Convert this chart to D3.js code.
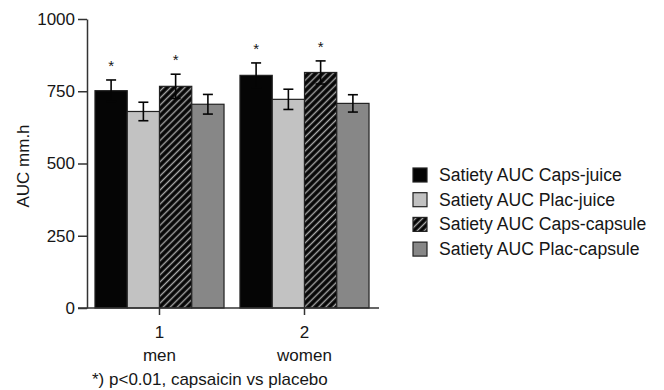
<!DOCTYPE html>
<html lang="en">
<head>
<meta charset="UTF-8">
<title>Satiety AUC</title>
<script src="https://d3js.org/d3.v7.min.js"></script>
<style>
  body { margin: 0; background: #fff; }
  svg text { font-family: "Liberation Sans", Arial, sans-serif; fill: #161616; }
</style>
</head>
<body>
<div id="chart"></div>
<script>
// data
const groups = ["1", "2"];
const groupNames = ["men", "women"];
const seriesNames = ["Satiety AUC Caps-juice", "Satiety AUC Plac-juice",
                     "Satiety AUC Caps-capsule", "Satiety AUC Plac-capsule"];
const capsJuice = [752, 805];
const placJuice = [680, 722];
const capsCapsule = [767, 815];
const placCapsule = [705, 708];
const capsJuiceErr = [37, 43];
const placJuiceErr = [32, 35];
const capsCapsuleErr = [42, 40];
const placCapsuleErr = [34, 30];
const significant = [true, false, true, false];
const yTicks = [0, 250, 500, 750, 1000];
const footnote = "*) p<0.01, capsaicin vs placebo";

const means = [capsJuice, placJuice, capsCapsule, placCapsule];
const errs = [capsJuiceErr, placJuiceErr, capsCapsuleErr, placCapsuleErr];
const fills = ["#050505", "#c2c2c2", "url(#hatch)", "#878787"];

const width = 664, height = 390;

const svg = d3.select("#chart").append("svg")
    .attr("width", width).attr("height", height);

// hatch for the capsaicin capsule bars
const pat = svg.append("defs").append("pattern")
    .attr("id", "hatch")
    .attr("patternUnits", "userSpaceOnUse")
    .attr("width", 5).attr("height", 5)
    .attr("patternTransform", "rotate(45)");
pat.append("rect").attr("width", 5).attr("height", 5).attr("fill", "#050505");
pat.append("line").attr("x1", 2.5).attr("x2", 2.5).attr("y1", 0).attr("y2", 5)
    .attr("stroke", "#a8a8a8").attr("stroke-width", 1.4);

const y = d3.scaleLinear().domain([0, 1000]).range([308, 19]);
const x = d3.scaleBand().domain(groups).range([87, 377])
    .paddingInner(0.11).paddingOuter(0.055);
const xs = d3.scaleBand().domain(d3.range(4)).range([0, x.bandwidth()]);

// rows: one per bar
const rows = [];
groups.forEach((g, gi) => {
  means.forEach((m, si) => {
    rows.push({ g: g, s: si, v: m[gi], e: errs[si][gi] });
  });
});

const capW = 10;
const bx = d => x(d.g) + xs(d.s) + xs.bandwidth() / 2;

svg.append("g").selectAll("rect").data(rows).join("rect")
    .attr("x", d => x(d.g) + xs(d.s))
    .attr("y", d => y(d.v))
    .attr("width", xs.bandwidth())
    .attr("height", d => y(0) - y(d.v))
    .attr("fill", d => fills[d.s])
    .attr("stroke", "#222")
    .attr("stroke-width", 1.2);

// black whiskers: the lower half disappears into the black bars
const eb = svg.append("g").attr("stroke", "#050505").attr("stroke-width", 1.6);
eb.selectAll("line.v").data(rows).join("line").attr("class", "v")
    .attr("x1", bx).attr("x2", bx)
    .attr("y1", d => y(d.v + d.e)).attr("y2", d => y(d.v - d.e));
eb.selectAll("line.t").data(rows).join("line").attr("class", "t")
    .attr("x1", d => bx(d) - capW / 2).attr("x2", d => bx(d) + capW / 2)
    .attr("y1", d => y(d.v + d.e)).attr("y2", d => y(d.v + d.e));
eb.selectAll("line.b").data(rows).join("line").attr("class", "b")
    .attr("x1", d => bx(d) - capW / 2).attr("x2", d => bx(d) + capW / 2)
    .attr("y1", d => y(d.v - d.e)).attr("y2", d => y(d.v - d.e));

// significance stars
svg.append("g").selectAll("text").data(rows.filter(d => significant[d.s])).join("text")
    .attr("x", bx)
    .attr("y", d => y(d.v + d.e) - 9)
    .attr("text-anchor", "middle")
    .attr("font-size", 15)
    .text("*");

// y axis
const yAxis = svg.append("g").attr("transform", "translate(87,0)")
    .call(d3.axisLeft(y).tickValues(yTicks).tickFormat(d3.format("d"))
      .tickSize(9).tickSizeOuter(0).tickPadding(3));
yAxis.select(".domain").attr("stroke", "#333").attr("stroke-width", 1.5);
yAxis.selectAll(".tick line").attr("stroke", "#333").attr("stroke-width", 1.5);
yAxis.selectAll(".tick text").attr("font-size", 17).attr("fill", "#161616");

// x axis
const xAxis = svg.append("g").attr("transform", "translate(0,308)")
    .call(d3.axisBottom(x).tickSize(7).tickSizeOuter(0).tickPadding(11));
xAxis.select(".domain").remove();
xAxis.selectAll(".tick line").attr("stroke", "#333").attr("stroke-width", 1.5);
xAxis.selectAll(".tick text").attr("font-size", 17).attr("fill", "#161616");
svg.append("line")
    .attr("x1", 78).attr("x2", 379).attr("y1", 308).attr("y2", 308)
    .attr("stroke", "#333").attr("stroke-width", 1.5);

svg.append("g").selectAll("text").data(groups).join("text")
    .attr("x", d => x(d) + x.bandwidth() / 2)
    .attr("y", 361)
    .attr("text-anchor", "middle")
    .attr("font-size", 17)
    .text((d, i) => groupNames[i]);

svg.append("text")
    .attr("x", 92).attr("y", 385)
    .attr("font-size", 17)
    .text(footnote);

// y title
svg.append("text")
    .attr("transform", "translate(29,166) rotate(-90)")
    .attr("text-anchor", "middle")
    .attr("font-size", 17)
    .text("AUC mm.h");

// legend
const leg = svg.append("g").selectAll("g").data(seriesNames).join("g")
    .attr("transform", (d, i) => `translate(413,${175 + i * 24.7})`);
leg.append("rect")
    .attr("x", 0).attr("y", -7).attr("width", 14).attr("height", 14)
    .attr("fill", (d, i) => fills[i])
    .attr("stroke", "#222").attr("stroke-width", 1.2);
leg.append("text")
    .attr("x", 26).attr("y", 6)
    .attr("font-size", 17.6)
    .text(d => d);
</script>
</body>
</html>
